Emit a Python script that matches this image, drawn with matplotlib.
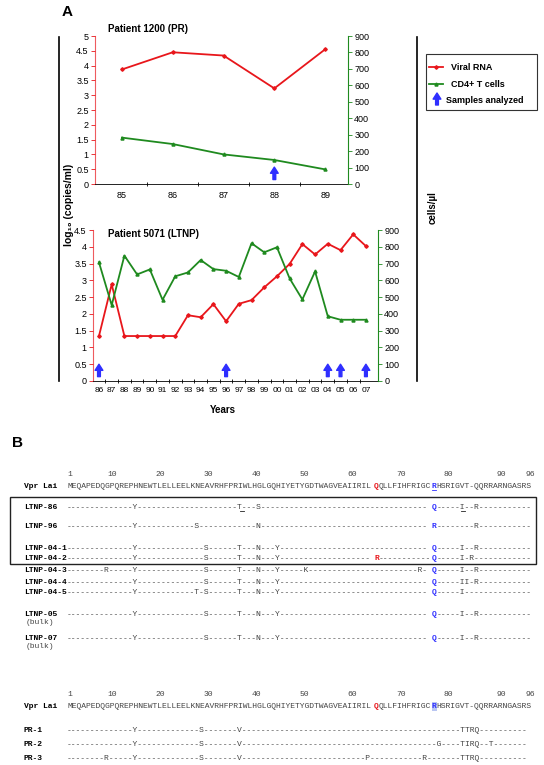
import matplotlib
matplotlib.use('Agg')
import matplotlib.pyplot as plt
from matplotlib.ticker import FuncFormatter
from matplotlib.patches import Rectangle

plt.rcParams['font.family'] = ['Liberation Sans', 'DejaVu Sans']

# ---- panel A data ----
years_pr = ['85', '86', '87', '88', '89']
rna_pr = [3.87, 4.45, 4.34, 3.23, 4.55]
cd4_pr = [282, 243, 180, 146, 89]
samples_pr = ['88']

years_ltnp = ['86', '87', '88', '89', '90', '91', '92', '93', '94', '95', '96',
              '97', '98', '99', '00', '01', '02', '03', '04', '05', '06', '07']
rna_ltnp = [1.34, 2.88, 1.34, 1.34, 1.34, 1.34, 1.34, 1.96, 1.90, 2.29, 1.78,
            2.30, 2.41, 2.79, 3.12, 3.49, 4.08, 3.77, 4.09, 3.90, 4.37, 4.02]
cd4_ltnp = [707, 452, 747, 635, 665, 484, 624, 647, 721, 667, 657,
            620, 821, 767, 797, 611, 486, 653, 386, 365, 365, 365]
samples_ltnp = ['86', '96', '04', '05', '07']

# ---- panel B data ----
vpr_lai = 'MEQAPEDQGPQREPHNEWTLELLEELKNEAVRHFPRIWLHGLGQHIYETYGDTWAGVEAIIRILQQLLFIHFRIGCRHSRIGVT-QQRRARNGASRS'
pos_labels = ['1', '10', '20', '30', '40', '50', '60', '70', '80', '90', '96']
pos_cols = [0, 9, 19, 29, 39, 49, 59, 69, 79, 90, 96]

ltnp_names = ['LTNP-86', 'LTNP-96', 'LTNP-04-1', 'LTNP-04-2', 'LTNP-04-3',
              'LTNP-04-4', 'LTNP-04-5', 'LTNP-05', 'LTNP-07']
ltnp_muts = [
    {14: 'Y', 36: 'T', 40: 'S', 76: 'Q', 82: 'I', 85: 'R'},
    {14: 'Y', 27: 'S', 40: 'N', 76: 'R', 85: 'R'},
    {14: 'Y', 29: 'S', 36: 'T', 40: 'N', 44: 'Y', 76: 'Q', 82: 'I', 85: 'R'},
    {14: 'Y', 29: 'S', 36: 'T', 40: 'N', 44: 'Y', 64: 'R', 76: 'Q', 82: 'I', 84: 'R'},
    {8: 'R', 14: 'Y', 29: 'S', 36: 'T', 40: 'N', 44: 'Y', 50: 'K', 74: 'R', 76: 'Q', 82: 'I', 85: 'R'},
    {14: 'Y', 29: 'S', 36: 'T', 40: 'N', 44: 'Y', 76: 'Q', 82: 'I', 83: 'I', 85: 'R'},
    {14: 'Y', 27: 'T', 29: 'S', 36: 'T', 40: 'N', 44: 'Y', 76: 'Q', 82: 'I'},
    {14: 'Y', 29: 'S', 36: 'T', 40: 'N', 44: 'Y', 76: 'Q', 82: 'I', 85: 'R'},
    {14: 'Y', 29: 'S', 36: 'T', 40: 'N', 44: 'Y', 76: 'Q', 82: 'I', 85: 'R'},
]
ltnp_bulk = [False, False, False, False, False, False, False, True, True]

pr_names = ['PR-1', 'PR-2', 'PR-3']
pr_muts = [
    {14: 'Y', 28: 'S', 36: 'V', 83: 'T', 84: 'T', 85: 'R', 86: 'Q'},
    {14: 'Y', 28: 'S', 36: 'V', 78: 'G', 83: 'T', 84: 'I', 85: 'R', 86: 'Q', 89: 'T'},
    {8: 'R', 14: 'Y', 28: 'S', 36: 'V', 63: 'P', 75: 'R', 83: 'T', 84: 'T', 85: 'R', 86: 'Q'},
]

RED = '#e8161b'
GREEN = '#1f8a1f'
BLUE = '#2f2fff'
W, H = 544, 765

fig = plt.figure(figsize=(W / 100, H / 100), dpi=100)
canvas = fig.add_axes([0, 0, 1, 1])
canvas.set_xlim(0, W)
canvas.set_ylim(H, 0)
canvas.axis('off')

ARROW = 'simple,head_length=0.55,head_width=0.7,tail_width=0.25'


def px_axes(left, top, right, bottom):
    return fig.add_axes([left / W, 1 - bottom / H, (right - left) / W, (bottom - top) / H])


def trim(v, pos):
    return '%g' % v


def draw_chart(ax, years, rna, cd4, samples, ymax, xlim, arrow_base, arrow_top, xfs):
    n = len(years)
    x = list(range(n))
    ax.plot(x, rna, color=RED, lw=1.3, marker='D', ms=1.8, zorder=3)
    for s in samples:
        i = years.index(s)
        ax.annotate('', xy=(i, arrow_top), xytext=(i, arrow_base),
                    arrowprops=dict(arrowstyle=ARROW, color=BLUE, mutation_scale=8,
                                    shrinkA=0, shrinkB=0))
    ax.set_xlim(*xlim)
    ax.set_ylim(0, ymax)
    ax.set_yticks([k * 0.5 for k in range(int(ymax / 0.5) + 1)])
    ax.yaxis.set_major_formatter(FuncFormatter(trim))
    ax.set_xticks(x)
    ax.set_xticklabels(years, fontsize=xfs)
    ax.set_xticks([i + 0.5 for i in range(n - 1)], minor=True)
    ax.tick_params(axis='x', which='major', length=0, pad=5)
    ax.tick_params(axis='x', which='minor', length=3, direction='inout', width=0.6)
    ax.tick_params(axis='y', labelsize=6.5, length=3, width=0.6, color=RED, pad=1.5)
    for side in ['top', 'right']:
        ax.spines[side].set_visible(False)
    ax.spines['left'].set_color(RED)
    ax.spines['left'].set_alpha(0.7)
    ax.spines['bottom'].set_linewidth(0.6)
    ax.patch.set_alpha(0)

    ax2 = ax.twinx()
    ax2.plot(x, cd4, color=GREEN, lw=1.3, marker='^', ms=2.2)
    ax2.set_ylim(0, 900)
    ax2.set_yticks(range(0, 901, 100))
    ax2.tick_params(axis='y', labelsize=6.5, length=3, width=0.6, color=GREEN, pad=1.5)
    for side in ['top', 'left', 'bottom']:
        ax2.spines[side].set_visible(False)
    ax2.spines['right'].set_color(GREEN)
    return ax2


ax_pr = px_axes(95, 36, 348, 184)
draw_chart(ax_pr, years_pr, rna_pr, cd4_pr, samples_pr, 5, (-0.53, 4.45), 0.15, 0.57, 6.5)
ax_ltnp = px_axes(93, 230, 378, 381)
draw_chart(ax_ltnp, years_ltnp, rna_ltnp, cd4_ltnp, samples_ltnp, 4.5, (-0.47, 21.95), 0.13, 0.5, 6)
ax_ltnp.tick_params(axis='x', which='major', pad=4)

canvas.text(108, 29, 'Patient 1200 (PR)', fontsize=7, fontweight='bold', va='center')
canvas.text(108, 234, 'Patient 5071 (LTNP)', fontsize=7, fontweight='bold', va='center')
canvas.text(223, 410, 'Years', fontsize=7, fontweight='bold', ha='center', va='center')
canvas.text(62, 12, 'A', fontsize=11, fontweight='bold', va='center')
canvas.text(12, 443, 'B', fontsize=11, fontweight='bold', va='center')
canvas.text(69, 205, 'log₁₀ (copies/ml)', fontsize=7.5, fontweight='bold', rotation=90,
            ha='center', va='center')
canvas.text(433, 208, 'cells/µl', fontsize=7, fontweight='bold', rotation=90,
            ha='center', va='center')
canvas.plot([59, 59], [37, 381], color='black', lw=1.2)
canvas.plot([417, 417], [37, 381], color='black', lw=1.2)

# legend
canvas.add_patch(Rectangle((426, 54), 111, 56, fill=False, lw=0.8, edgecolor='#333333'))
canvas.plot([429, 443], [67, 67], color=RED, lw=1.3)
canvas.plot([436], [67], color=RED, marker='D', ms=1.8)
canvas.plot([429, 443], [84, 84], color=GREEN, lw=1.3)
canvas.plot([436], [84], color=GREEN, marker='^', ms=2.2)
canvas.annotate('', xy=(437, 93), xytext=(437, 105),
                arrowprops=dict(arrowstyle=ARROW, color=BLUE, mutation_scale=8, shrinkA=0, shrinkB=0))
canvas.text(451, 67, 'Viral RNA', fontsize=6.5, fontweight='bold', va='center')
canvas.text(451, 84, 'CD4+ T cells', fontsize=6.5, fontweight='bold', va='center')
canvas.text(446, 100, 'Samples analyzed', fontsize=6.5, fontweight='bold', va='center')

# ---- panel B ----
MONO = 'Liberation Mono'
FS = 4.8 / 0.6 * 72 / 100
X0 = 67.0
CW = 4.8
SEQ_COLOR = '#444444'


def col_x(c):
    return X0 + CW * c + CW / 2


def seq_row(y, chars, special):
    # plain runs between highlighted characters, highlighted ones drawn on their own
    start = 0
    for i in sorted(special) + [len(chars)]:
        if i > start:
            canvas.text(X0 + CW * start, y, chars[start:i], family=MONO, fontsize=FS,
                        color=SEQ_COLOR, va='center', ha='left')
        if i < len(chars):
            color, bold = special[i]
            canvas.text(col_x(i), y, chars[i], family=MONO, fontsize=FS, color=color,
                        fontweight='bold' if bold else 'normal', va='center', ha='center')
        start = i + 1


def mut_row(muts):
    return ''.join(muts.get(i, '-') for i in range(len(vpr_lai)))


def header(y_num, y_seq, highlight):
    for lab, c in zip(pos_labels, pos_cols):
        canvas.text(col_x(c), y_num, lab, family=MONO, fontsize=FS, color=SEQ_COLOR,
                    ha='center', va='center')
    canvas.text(24, y_seq, 'Vpr Lai', family=MONO, fontsize=FS, fontweight='bold', va='center')
    if highlight:
        canvas.add_patch(Rectangle((col_x(76) - CW / 2, y_seq - 4.5), CW, 9, color='#b9c6f2', lw=0))
    else:
        canvas.plot([col_x(76) - 2, col_x(76) + 2], [y_seq + 4.3, y_seq + 4.3], color=BLUE, lw=0.6)
    seq_row(y_seq, vpr_lai, {64: (RED, True), 76: (BLUE, True)})


ltnp_y = [507, 527, 548, 559, 571, 582, 593, 614, 638]
header(474, 486, False)
canvas.add_patch(Rectangle((10, 497), 526, 67, fill=False, lw=1.0, edgecolor='#222222'))
for name, muts, bulk, y in zip(ltnp_names, ltnp_muts, ltnp_bulk, ltnp_y):
    canvas.text(24, y, name, family=MONO, fontsize=FS, fontweight='bold', va='center')
    if bulk:
        canvas.text(26, y + 9, '(bulk)', family=MONO, fontsize=FS, color=SEQ_COLOR, va='center')
    special = {76: (BLUE, True)}
    if 64 in muts:
        special[64] = (RED, True)
    seq_row(y, mut_row(muts), special)
    if name == 'LTNP-86':
        for c in (36, 82):
            canvas.plot([col_x(c) - 2, col_x(c) + 2], [y + 4.3, y + 4.3], color='#222222', lw=0.6)

pr_y = [730, 745, 759]
header(694, 706, True)
for name, muts, y in zip(pr_names, pr_muts, pr_y):
    canvas.text(24, y, name, family=MONO, fontsize=FS, fontweight='bold', va='center')
    seq_row(y, mut_row(muts), {})

fig.savefig('out.png', dpi=100)
